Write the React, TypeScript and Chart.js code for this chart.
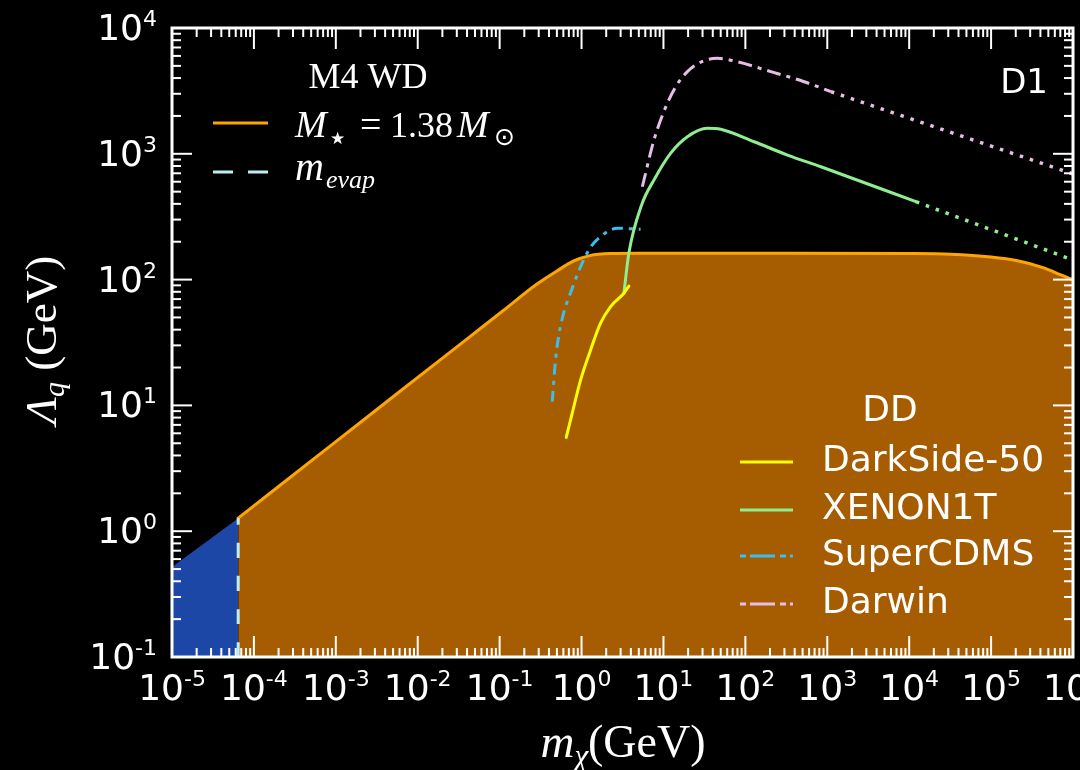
import React, { useEffect, useRef } from "react";
import { Chart, registerables } from "chart.js";

Chart.register(...registerables);

// ---- axes ----
const X_MIN = 1e-5;
const X_MAX = 1e6;
const Y_MIN = 0.1;
const Y_MAX = 1e4;
const xTickExps = [-5, -4, -3, -2, -1, 0, 1, 2, 3, 4, 5, 6];
const yTickExps = [-1, 0, 1, 2, 3, 4];

// ---- data (GeV) ----
const evapMass = [6.43e-5, 6.43e-5];
const evapLambda = [0.1, 1.27];

const lowMass = [1e-5, 6.43e-5];
const lowLambda = [0.52, 1.27];

const wdMass = [6.43e-5, 1.0e-3, 6.6e-3, 4.27e-2, 0.11, 0.28, 0.5, 0.79, 1.26, 2.24, 5.0, 100, 1e4, 3.2e4, 1e5, 2.1e5, 4.4e5, 7.1e5, 1e6];
const wdLambda = [1.27, 5.15, 13.5, 34.9, 56.5, 91.4, 117, 140, 155, 161, 162, 162, 161, 159, 151, 141, 124, 109, 100];

const darksideMass = [0.65, 0.769, 0.973, 1.288, 1.706, 2.265, 3.289, 3.784];
const darksideLambda = [5.57, 8.65, 15.9, 27.5, 45.0, 61.0, 77.8, 88.9];

const xenonMass = [3.29, 3.78, 5.41, 7.66, 12.2, 19.6, 34.4, 50.0, 128, 327, 836, 1.21e4];
const xenonLambda = [78, 162, 392, 620, 1009, 1368, 1596, 1567, 1247, 977, 789, 416];
const xenonProjMass = [1.21e4, 1e6];
const xenonProjLambda = [416, 143];

const cdmsMass = [0.439, 0.481, 0.553, 0.769, 1.227, 1.706, 2.729, 5.26];
const cdmsLambda = [10.7, 23.0, 42.3, 85.3, 172, 219, 256, 251];

const darwinMass = [5.52, 7.66, 10.1, 14.1, 19.6, 31.3, 45.6, 80.0, 205, 522, 1107];
const darwinLambda = [547, 1288, 2163, 3412, 4498, 5495, 5741, 5395, 4498, 3741, 3119];
const darwinProjMass = [1107, 1e6];
const darwinProjLambda = [3119, 692];

// ---- legend labels ----
const ddTitle = "DD";
const ddLabels = ["DarkSide-50", "XENON1T", "SuperCDMS", "Darwin"];
const wdTitle = "M4 WD";
const panelLabel = "D1";

// ---- colours ----
const C_ORANGE = "#ffa500";
const C_FILL = "#a65c00";
const C_BLUE = "#1c47a6";
const C_EVAP = "#bfeef2";
const C_YELLOW = "#ffff00";
const C_GREEN = "#90ee90";
const C_CYAN = "#3dbdee";
const C_PINK = "#e8bee8";

const DASH_DOT = [11, 6, 4, 6];
const DARWIN_DASH_DOT = [14, 6, 4, 6];
const DOTTED = [3.5, 7];

const SERIF = '"Liberation Serif", "DejaVu Serif", serif';
const SANS = '"DejaVu Sans", sans-serif';

const pts = (xs: number[], ys: number[]) => xs.map((x, i) => ({ x, y: ys[i] }));

type Part = { t: string; font: string; dy?: number };

function drawRich(ctx: CanvasRenderingContext2D, parts: Part[], x: number, y: number, align: "left" | "center" | "right") {
  let w = 0;
  for (const p of parts) {
    ctx.font = p.font;
    w += ctx.measureText(p.t).width;
  }
  let cx = align === "left" ? x : align === "center" ? x - w / 2 : x - w;
  ctx.textAlign = "left";
  ctx.textBaseline = "alphabetic";
  for (const p of parts) {
    ctx.font = p.font;
    ctx.fillText(p.t, cx, y + (p.dy || 0));
    cx += ctx.measureText(p.t).width;
  }
}

function text(ctx: CanvasRenderingContext2D, t: string, font: string, x: number, y: number) {
  ctx.font = font;
  ctx.textAlign = "left";
  ctx.textBaseline = "alphabetic";
  ctx.fillText(t, x, y);
}

function powParts(e: number): Part[] {
  return [
    { t: "10", font: `36px ${SANS}` },
    { t: e < 0 ? "-" + -e : String(e), font: `22px ${SANS}`, dy: -14 },
  ];
}

function seg(ctx: CanvasRenderingContext2D, x1: number, y1: number, x2: number, y2: number) {
  ctx.beginPath();
  ctx.moveTo(x1, y1);
  ctx.lineTo(x2, y2);
  ctx.stroke();
}

const decor = {
  id: "decor",
  beforeDraw(chart: any) {
    const ctx = chart.ctx;
    ctx.save();
    ctx.fillStyle = "#000";
    ctx.fillRect(0, 0, chart.width, chart.height);
    ctx.restore();
  },
  afterDatasetsDraw(chart: any) {
    const ctx: CanvasRenderingContext2D = chart.ctx;
    const { left, right, top, bottom } = chart.chartArea;
    const xs = chart.scales.x;
    const ys = chart.scales.y;
    ctx.save();
    ctx.strokeStyle = "#fff";
    ctx.fillStyle = "#fff";
    ctx.lineWidth = 2;
    ctx.setLineDash([]);
    // inward ticks, all four sides
    for (let e = -5; e <= 6; e++) {
      for (let m = 1; m <= 9; m++) {
        const v = m * Math.pow(10, e);
        if (v > X_MAX * 1.0001) break;
        const p = xs.getPixelForValue(v);
        const L = m === 1 ? 21 : 9;
        seg(ctx, p, bottom, p, bottom - L);
        seg(ctx, p, top, p, top + L);
      }
    }
    for (let e = -1; e <= 4; e++) {
      for (let m = 1; m <= 9; m++) {
        const v = m * Math.pow(10, e);
        if (v > Y_MAX * 1.0001) break;
        const p = ys.getPixelForValue(v);
        const L = m === 1 ? 20 : 9;
        seg(ctx, left, p, left + L, p);
        seg(ctx, right, p, right - L, p);
      }
    }
    ctx.lineWidth = 3;
    ctx.strokeRect(left, top, right - left, bottom - top);

    // tick labels
    for (const e of xTickExps) {
      const p = xs.getPixelForValue(Math.pow(10, e));
      drawRich(ctx, powParts(e), p, bottom + 43, "center");
    }
    for (const e of yTickExps) {
      const p = ys.getPixelForValue(Math.pow(10, e));
      drawRich(ctx, powParts(e), left - 15, p + 12, "right");
    }

    // axis titles
    drawRich(
      ctx,
      [
        { t: "m", font: `italic 47px ${SERIF}` },
        { t: "χ", font: `italic 31px ${SERIF}`, dy: 9 },
        { t: "(GeV)", font: `46px ${SERIF}` },
      ],
      623,
      757,
      "center"
    );
    ctx.save();
    ctx.translate(56, 340);
    ctx.rotate(-Math.PI / 2);
    drawRich(
      ctx,
      [
        { t: "Λ", font: `italic 45px ${SERIF}` },
        { t: "q", font: `italic 30px ${SERIF}`, dy: 8 },
        { t: " (GeV)", font: `45px ${SERIF}` },
      ],
      0,
      0,
      "center"
    );
    ctx.restore();

    // panel label
    ctx.font = `34px ${SANS}`;
    ctx.textAlign = "right";
    ctx.textBaseline = "middle";
    ctx.fillText(panelLabel, 1048, 84);

    // WD legend
    drawRich(ctx, [{ t: wdTitle, font: `36px ${SERIF}` }], 368, 88, "center");
    ctx.lineWidth = 3;
    ctx.strokeStyle = C_ORANGE;
    seg(ctx, 213, 123, 268, 123);
    text(ctx, "M", `italic 38px ${SERIF}`, 295, 137);
    text(ctx, "★", `17px ${SANS}`, 330, 144);
    text(ctx, "=", `38px ${SERIF}`, 360, 137);
    text(ctx, "1.38", `36px ${SERIF}`, 390, 137);
    text(ctx, "M", `italic 38px ${SERIF}`, 457, 137);
    text(ctx, "⊙", `25px ${SANS}`, 494, 145);
    ctx.strokeStyle = C_EVAP;
    ctx.setLineDash([20, 15]);
    seg(ctx, 213, 172, 268, 172);
    ctx.setLineDash([]);
    text(ctx, "m", `italic 40px ${SERIF}`, 295, 180);
    text(ctx, "evap", `italic 26px ${SERIF}`, 326, 188);

    // DD legend
    ctx.fillStyle = "#fff";
    ctx.font = `36px ${SANS}`;
    ctx.textAlign = "center";
    ctx.textBaseline = "middle";
    ctx.fillText(ddTitle, 890, 412);
    const rows = [462, 510, 556, 604];
    const colors = [C_YELLOW, C_GREEN, C_CYAN, C_PINK];
    const dashes: number[][] = [[], [], [25, 5, 6, 4], [25, 5, 6, 4]];
    rows.forEach((y, i) => {
      ctx.strokeStyle = colors[i];
      ctx.lineWidth = 3;
      ctx.setLineDash(dashes[i]);
      ctx.lineDashOffset = dashes[i].length ? 30 : 0;
      seg(ctx, 740, y, 793, y);
      ctx.setLineDash([]);
      ctx.lineDashOffset = 0;
      ctx.fillStyle = "#fff";
      ctx.font = `36px ${SANS}`;
      ctx.textAlign = "left";
      ctx.textBaseline = "middle";
      ctx.fillText(ddLabels[i], 822, y);
    });
    ctx.restore();
  },
};

export default function App() {
  const ref = useRef<HTMLCanvasElement>(null);
  useEffect(() => {
    document.body.style.margin = "0";
    document.body.style.background = "#000";
    const canvas = ref.current as HTMLCanvasElement;
    const line = (data: any, color: string, dash: number[] = [], extra: any = {}) => ({
      data,
      showLine: true,
      borderColor: color,
      borderWidth: 3,
      borderDash: dash,
      borderCapStyle: dash.length ? "butt" : "round",
      pointRadius: 0,
      fill: false,
      cubicInterpolationMode: "monotone",
      order: 1,
      ...extra,
    });
    const chart = new Chart(canvas, {
      type: "scatter",
      data: {
        datasets: [
          line(pts(darksideMass, darksideLambda), C_YELLOW),
          line(pts(xenonMass, xenonLambda), C_GREEN),
          line(pts(xenonProjMass, xenonProjLambda), C_GREEN, DOTTED, { borderWidth: 3.5 }),
          line(pts(cdmsMass, cdmsLambda), C_CYAN, DASH_DOT),
          line(pts(darwinMass, darwinLambda), C_PINK, DARWIN_DASH_DOT),
          line(pts(darwinProjMass, darwinProjLambda), C_PINK, DOTTED, { borderWidth: 3.5 }),
          line(pts(evapMass, evapLambda), C_EVAP, [15, 18], { order: 2 }),
          line(pts(wdMass, wdLambda), C_ORANGE, [], { fill: "start", backgroundColor: C_FILL, order: 5 }),
          line(pts(lowMass, lowLambda), C_BLUE, [], { fill: "start", backgroundColor: C_BLUE, borderWidth: 0, order: 6 }),
        ] as any,
      },
      options: {
        responsive: false,
        animation: false,
        devicePixelRatio: 1,
        layout: { padding: { top: 28, right: 7, left: 0, bottom: 0 } },
        plugins: { legend: { display: false }, tooltip: { enabled: false } },
        scales: {
          x: {
            type: "logarithmic",
            min: X_MIN,
            max: X_MAX,
            grid: { display: false },
            border: { display: false },
            ticks: { display: false },
            afterFit: (s: any) => {
              s.height = 113;
              s.paddingLeft = 0;
              s.paddingRight = 0;
            },
          },
          y: {
            type: "logarithmic",
            min: Y_MIN,
            max: Y_MAX,
            grid: { display: false },
            border: { display: false },
            ticks: { display: false },
            afterFit: (s: any) => {
              s.width = 172;
              s.paddingTop = 0;
              s.paddingBottom = 0;
            },
          },
        },
      } as any,
      plugins: [decor as any],
    });
    let alive = true;
    const fonts = (document as any).fonts;
    if (fonts) {
      Promise.all([
        fonts.load(`36px "DejaVu Sans"`),
        fonts.load(`30px "Liberation Serif"`),
        fonts.load(`italic 30px "Liberation Serif"`),
      ])
        .then(() => alive && chart.draw())
        .catch(() => {});
    }
    return () => {
      alive = false;
      chart.destroy();
    };
  }, []);
  return (
    <div style={{ width: 1080, height: 770, background: "#000" }}>
      <canvas ref={ref} width={1080} height={770} style={{ display: "block", width: 1080, height: 770 }} />
    </div>
  );
}
